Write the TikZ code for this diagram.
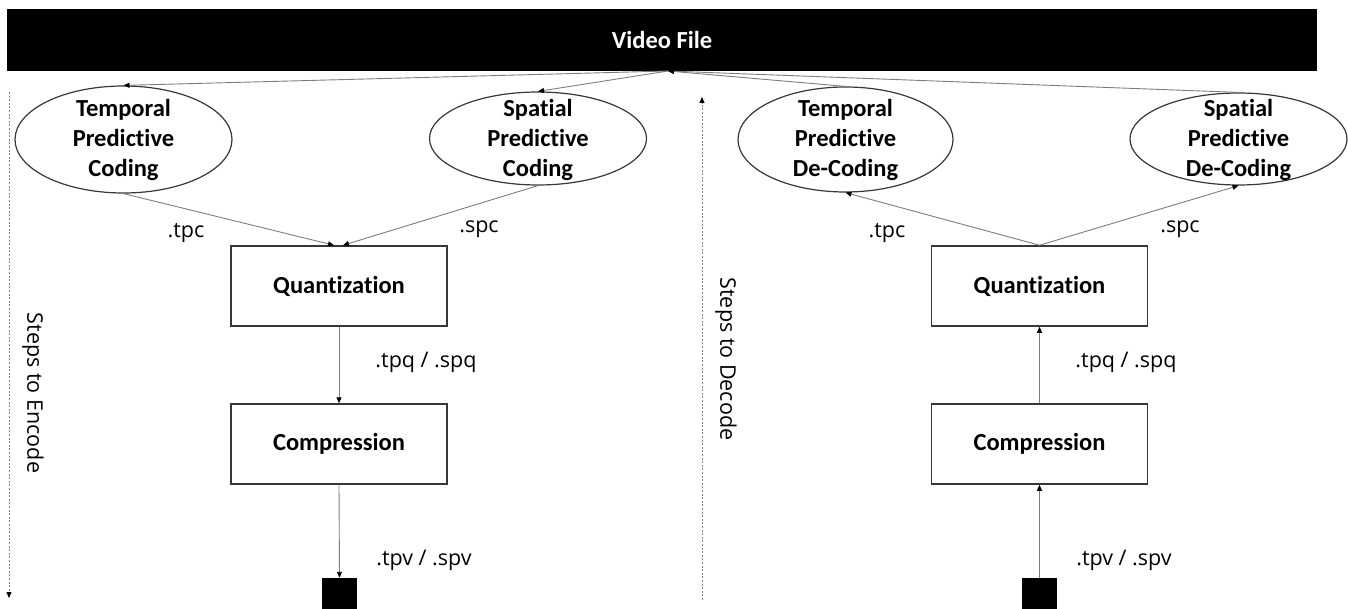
\documentclass[tikz,border=0pt]{standalone}
\usepackage{fontspec}
\setmainfont{Carlito}[Ligatures={NoCommon,NoContextual,NoRequired},Contextuals=NoAlternate]
\newfontfamily\lblfont{Open Sans}
\usetikzlibrary{arrows.meta,shapes.geometric}
\definecolor{linegray}{RGB}{125,125,125}
\definecolor{edgegray}{RGB}{55,55,55}
\begin{document}
\begin{tikzpicture}[x=1pt,y=-1pt,
  boldtxt/.style={font=\fontsize{24.5}{30}\selectfont\bfseries, align=center, inner sep=0pt},
  lbl/.style={font=\lblfont\fontsize{21.5}{26}\selectfont, inner sep=0pt},
  oval/.style={ellipse, draw=edgegray, line width=1.2pt, inner sep=0pt},
  stepbox/.style={rectangle, draw=edgegray, line width=1.5pt, minimum width=216pt, minimum height=80pt, inner sep=0pt},
  sink/.style={rectangle, fill=black, minimum width=35pt, minimum height=35pt, inner sep=0pt},
  conn/.style={draw=linegray, line width=0.9pt, -{Triangle[length=6pt,width=5pt,color=black]}},
  flow/.style={draw=gray, line width=0.8pt, dash pattern=on 2pt off 1.6pt, -{Triangle[length=6pt,width=5pt,color=black]}}
]
\useasboundingbox (0,0) rectangle (1348,609);

% source file bar
\node[rectangle, fill=black, minimum width=1310pt, minimum height=62pt, inner sep=0pt,
      text=white, font=\fontsize{24.5}{30}\selectfont\bfseries] (vfile) at (662,40) {Video File};
\coordinate (vf) at (668,71);

% encoding side
\node[oval, minimum width=217pt, minimum height=107pt] (tpc) at (123.5,139.5) {};
\node[boldtxt] (tpcT) at (123.5,140) {Temporal\\Predictive\\Coding};
\node[oval, minimum width=217pt, minimum height=93pt] (spc) at (538,138.5) {};
\node[boldtxt] (spcT) at (538,140) {Spatial\\Predictive\\Coding};
\node[stepbox, boldtxt, minimum width=216pt, minimum height=80pt] (qL) at (339,286) {Quantization};
\node[stepbox, boldtxt, minimum width=216pt, minimum height=80pt] (cL) at (339,444) {Compression};
\node[sink] (sqL) at (339.5,595.5) {};

% decoding side
\node[oval, minimum width=215pt, minimum height=105pt] (tdc) at (845.5,139.5) {};
\node[boldtxt] (tdcT) at (845.5,140) {Temporal\\Predictive\\De-Coding};
\node[oval, minimum width=217pt, minimum height=92pt] (sdc) at (1238.5,139) {};
\node[boldtxt] (sdcT) at (1238.5,140) {Spatial\\Predictive\\De-Coding};
\node[stepbox, boldtxt, minimum width=216pt, minimum height=80pt] (qR) at (1039.5,286) {Quantization};
\node[stepbox, boldtxt, minimum width=216pt, minimum height=80pt] (cR) at (1039.5,444) {Compression};
\node[sink] (sqR) at (1039.5,595.5) {};

% connectors from / to the file
\draw[conn] (vf) -- (tpc.north);
\draw[conn] (vf) -- (spc.north);
\draw[conn] (tdc.north) -- (vf);
\draw[conn] (sdc.north) -- (vf);

% encoding chain
\draw[conn] (tpc.south) -- ([xshift=-5pt]qL.north);
\draw[conn] (spc.south) -- ([xshift=4pt]qL.north);
\draw[conn] (qL.south) -- (cL.north);
\draw[conn] (cL.south) -- (sqL.north);

% decoding chain
\draw[conn] (qR.north) -- (tdc.south);
\draw[conn] (qR.north) -- (sdc.south);
\draw[conn] (cR.north) -- (qR.south);
\draw[conn] (sqR.north) -- (cR.south);

% file extension labels
\node[lbl] (l1) at (186,233) {.tpc};
\node[lbl] (l2) at (479,229) {.spc};
\node[lbl] (l3) at (426,362) {.tpq / .spq};
\node[lbl] (l4) at (424,560) {.tpv / .spv};
\node[lbl] (r1) at (887,233) {.tpc};
\node[lbl] (r2) at (1180,229) {.spc};
\node[lbl] (r3) at (1126,362) {.tpq / .spq};
\node[lbl] (r4) at (1124,560) {.tpv / .spv};

% direction guides
\coordinate (encTop) at (9,92);
\coordinate (encBot) at (9,598);
\coordinate (decBot) at (702,600);
\coordinate (decTop) at (702,97);
\draw[flow] (encTop) -- (encBot);
\draw[flow] (decBot) -- (decTop);
\node[lbl, rotate=-90] (enc) at (33,393) {Steps to Encode};
\node[lbl, rotate=-90] (dec) at (726,359) {Steps to Decode};
\end{tikzpicture}
\end{document}
